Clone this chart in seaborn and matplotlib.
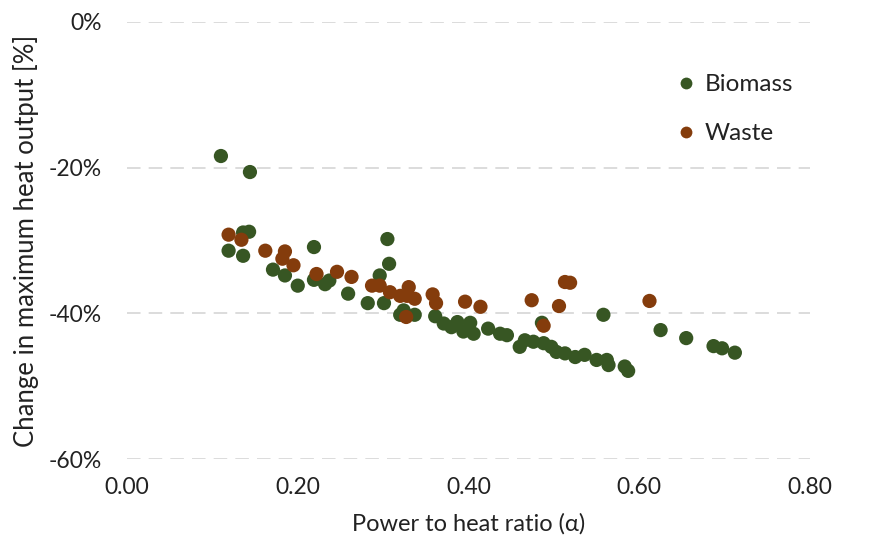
import matplotlib
matplotlib.use("Agg")
import matplotlib.pyplot as plt
from matplotlib.lines import Line2D
import seaborn as sns
import pandas as pd

biomass_x = [0.110, 0.144, 0.136, 0.143, 0.119, 0.136, 0.171, 0.185, 0.200, 0.219,
             0.219, 0.232, 0.237, 0.259, 0.282, 0.296, 0.307, 0.305, 0.301, 0.320,
             0.324, 0.337, 0.361, 0.371, 0.380, 0.387, 0.394, 0.402, 0.406, 0.423,
             0.437, 0.445, 0.460, 0.466, 0.476, 0.486, 0.488, 0.497, 0.503, 0.513,
             0.525, 0.536, 0.550, 0.562, 0.564, 0.583, 0.587, 0.558, 0.625, 0.655,
             0.687, 0.697, 0.712]
biomass_y = [-18.4, -20.6, -28.9, -28.8, -31.4, -32.1, -34.0, -34.8, -36.2, -30.9,
             -35.4, -36.0, -35.5, -37.3, -38.6, -34.8, -33.2, -29.8, -38.6, -40.2,
             -39.6, -40.2, -40.4, -41.4, -41.9, -41.2, -42.5, -41.3, -42.8, -42.1,
             -42.8, -43.0, -44.6, -43.7, -43.9, -41.3, -44.1, -44.6, -45.3, -45.5,
             -46.0, -45.7, -46.4, -46.4, -47.1, -47.3, -47.9, -40.2, -42.3, -43.4,
             -44.5, -44.8, -45.4]

waste_x = [0.119, 0.134, 0.162, 0.185, 0.182, 0.195, 0.222, 0.246, 0.263, 0.287,
           0.296, 0.308, 0.320, 0.330, 0.328, 0.337, 0.327, 0.358, 0.362, 0.396,
           0.414, 0.474, 0.506, 0.513, 0.519, 0.488, 0.612]
waste_y = [-29.2, -29.9, -31.4, -31.5, -32.5, -33.4, -34.6, -34.3, -35.0, -36.2,
           -36.2, -37.1, -37.6, -36.4, -37.6, -38.0, -40.5, -37.4, -38.6, -38.4,
           -39.1, -38.2, -39.0, -35.7, -35.8, -41.7, -38.3]

categories = ["Biomass", "Waste"]
colors = {"Biomass": "#375623", "Waste": "#843C0C"}

x_ticks = [0.0, 0.2, 0.4, 0.6, 0.8]
x_tick_labels = ["0.00", "0.20", "0.40", "0.60", "0.80"]
y_ticks = [0, -20, -40, -60]
y_tick_labels = ["0%", "-20%", "-40%", "-60%"]

df = pd.DataFrame({
    "alpha": biomass_x + waste_x,
    "change": biomass_y + waste_y,
    "type": ["Biomass"] * len(biomass_x) + ["Waste"] * len(waste_x),
})

sns.set_style("white")
plt.rcParams["font.family"] = ["Lato", "DejaVu Sans"]

fig = plt.figure(figsize=(8.69, 5.47), dpi=100)
ax = fig.add_axes([127 / 869, 1 - 459 / 547, (810 - 127) / 869, (459 - 22) / 547])

for yv in y_ticks:
    ax.axhline(yv, color="#D9D9D9", linewidth=1.3, dashes=(7.5, 4.5), zorder=0)

sns.scatterplot(data=df, x="alpha", y="change", hue="type", hue_order=categories,
                palette=colors, s=105, linewidth=0, edgecolor="none",
                legend=False, ax=ax, zorder=3, clip_on=False)

ax.set_xlim(0, 0.8)
ax.set_ylim(-60, 0)
ax.set_xticks(x_ticks)
ax.set_xticklabels(x_tick_labels)
ax.set_yticks(y_ticks)
ax.set_yticklabels(y_tick_labels)
ax.tick_params(axis="both", length=0, labelsize=16.5, colors="#222222")
ax.tick_params(axis="y", pad=18)
ax.tick_params(axis="x", pad=13)
for sp in ax.spines.values():
    sp.set_visible(False)
ax.grid(False)

ax.set_xlabel("Power to heat ratio (α)", fontsize=17, color="#222222", labelpad=11)
ax.set_ylabel("Change in maximum heat output [%]", fontsize=18.5, color="#222222", labelpad=7)

handles = [Line2D([0], [0], marker="o", linestyle="none", markersize=8.5,
                  markerfacecolor=colors[c], markeredgecolor="none") for c in categories]
ax.legend(handles, categories, loc="upper left", bbox_to_anchor=(0.783, 0.908),
          frameon=False, fontsize=17.5, labelspacing=1.15, handletextpad=0.25,
          borderpad=0, handlelength=1.0, labelcolor="#222222")

fig.savefig("out.png", dpi=100)
